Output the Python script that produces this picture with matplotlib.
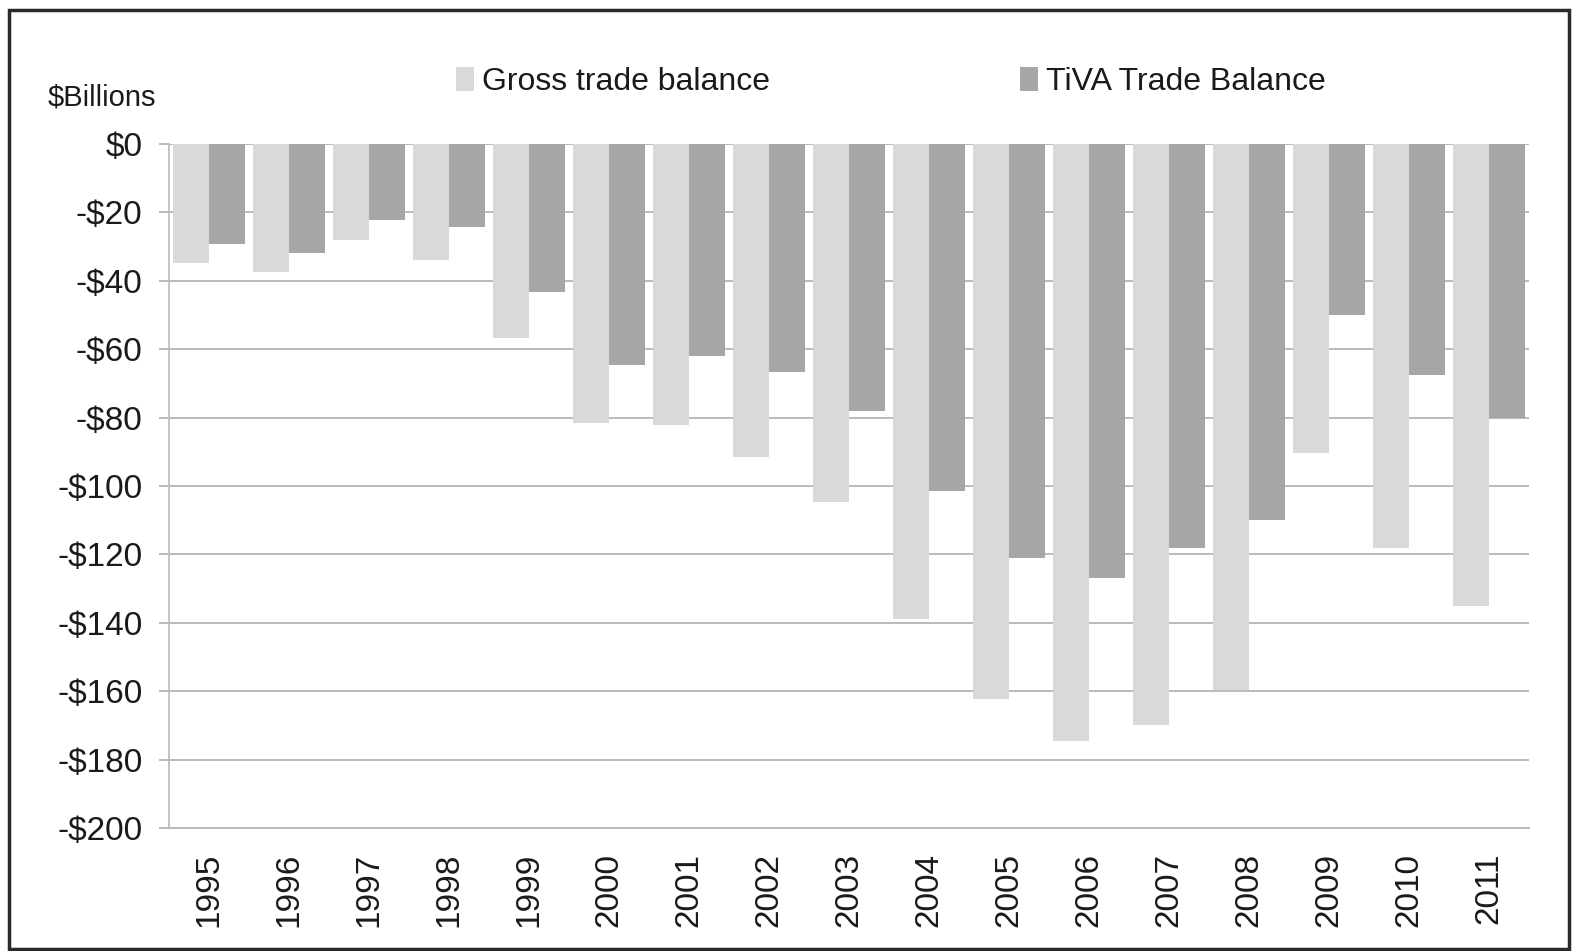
import matplotlib
matplotlib.use("Agg")
import matplotlib.pyplot as plt
from matplotlib.patches import Rectangle, Patch
import numpy as np

plt.rcParams['font.family'] = ['Liberation Sans Narrow', 'Liberation Sans', 'DejaVu Sans']

years = ["1995", "1996", "1997", "1998", "1999", "2000", "2001", "2002", "2003",
         "2004", "2005", "2006", "2007", "2008", "2009", "2010", "2011"]
gross_balance = [-34.8, -37.4, -28.0, -33.9, -56.6, -81.6, -82.2, -91.6, -104.6,
                 -139.0, -162.3, -174.7, -170.0, -159.6, -90.4, -118.0, -135.0]
tiva_balance = [-29.2, -31.8, -22.1, -24.4, -43.3, -64.5, -61.9, -66.6, -78.0,
                -101.6, -121.0, -127.0, -118.0, -110.0, -50.0, -67.5, -80.0]
y_ticks = [0, -20, -40, -60, -80, -100, -120, -140, -160, -180, -200]
y_tick_labels = ["$0", "-$20", "-$40", "-$60", "-$80", "-$100", "-$120",
                 "-$140", "-$160", "-$180", "-$200"]

W, H = 1579, 951
fig = plt.figure(figsize=(W / 100, H / 100), dpi=100)
ax = fig.add_axes([169 / W, 1 - 828 / H, (1529 - 169) / W, (828 - 144) / H])

x = np.arange(len(years))
bw = 0.455
ax.bar(x - bw / 2, gross_balance, width=bw, color="#d9d9d9", zorder=3,
       label="Gross trade balance")
ax.bar(x + bw / 2, tiva_balance, width=bw, color="#a6a6a6", zorder=3,
       label="TiVA Trade Balance")

ax.set_xlim(-0.5, len(years) - 0.5)
ax.set_ylim(-200, 0)
ax.set_yticks(y_ticks)
ax.set_yticklabels(y_tick_labels)
ax.set_xticks(x)
ax.set_xticklabels(years, rotation=90)

grid_c = "#bababa"
ax.grid(axis="y", color=grid_c, linewidth=1.4, zorder=0)
for s in ["top", "right"]:
    ax.spines[s].set_visible(False)
ax.spines["left"].set_color(grid_c)
ax.spines["left"].set_linewidth(1.2)
ax.spines["bottom"].set_color(grid_c)
ax.spines["bottom"].set_linewidth(1.4)
ax.tick_params(axis="y", length=7, color=grid_c, width=1.4, pad=12,
               labelsize=24, labelcolor="#1a1a1a")
ax.tick_params(axis="x", length=0, pad=18, labelsize=24, labelcolor="#1a1a1a")

fig.text(48 / W, 1 - 97 / H, "$Billions", fontsize=21, color="#1a1a1a",
         va="center", ha="left")

handles = [Patch(facecolor="#d9d9d9", label="Gross trade balance"),
           Patch(facecolor="#a6a6a6", label="TiVA Trade Balance")]
fig.legend(handles=handles, loc="center left", bbox_to_anchor=(440 / W, 1 - 82 / H),
           ncol=2, frameon=False, fontsize=23, handlelength=0.55, handleheight=0.75,
           handletextpad=0.25, columnspacing=7.85, borderpad=0, labelcolor="#1a1a1a")

fig.patches.append(Rectangle((9 / W, 1 - 949 / H), (1569 - 9) / W, (949 - 10) / H,
                             transform=fig.transFigure, fill=False,
                             edgecolor="#2a2a2a", linewidth=2.5))

fig.savefig("out.png", dpi=100)
